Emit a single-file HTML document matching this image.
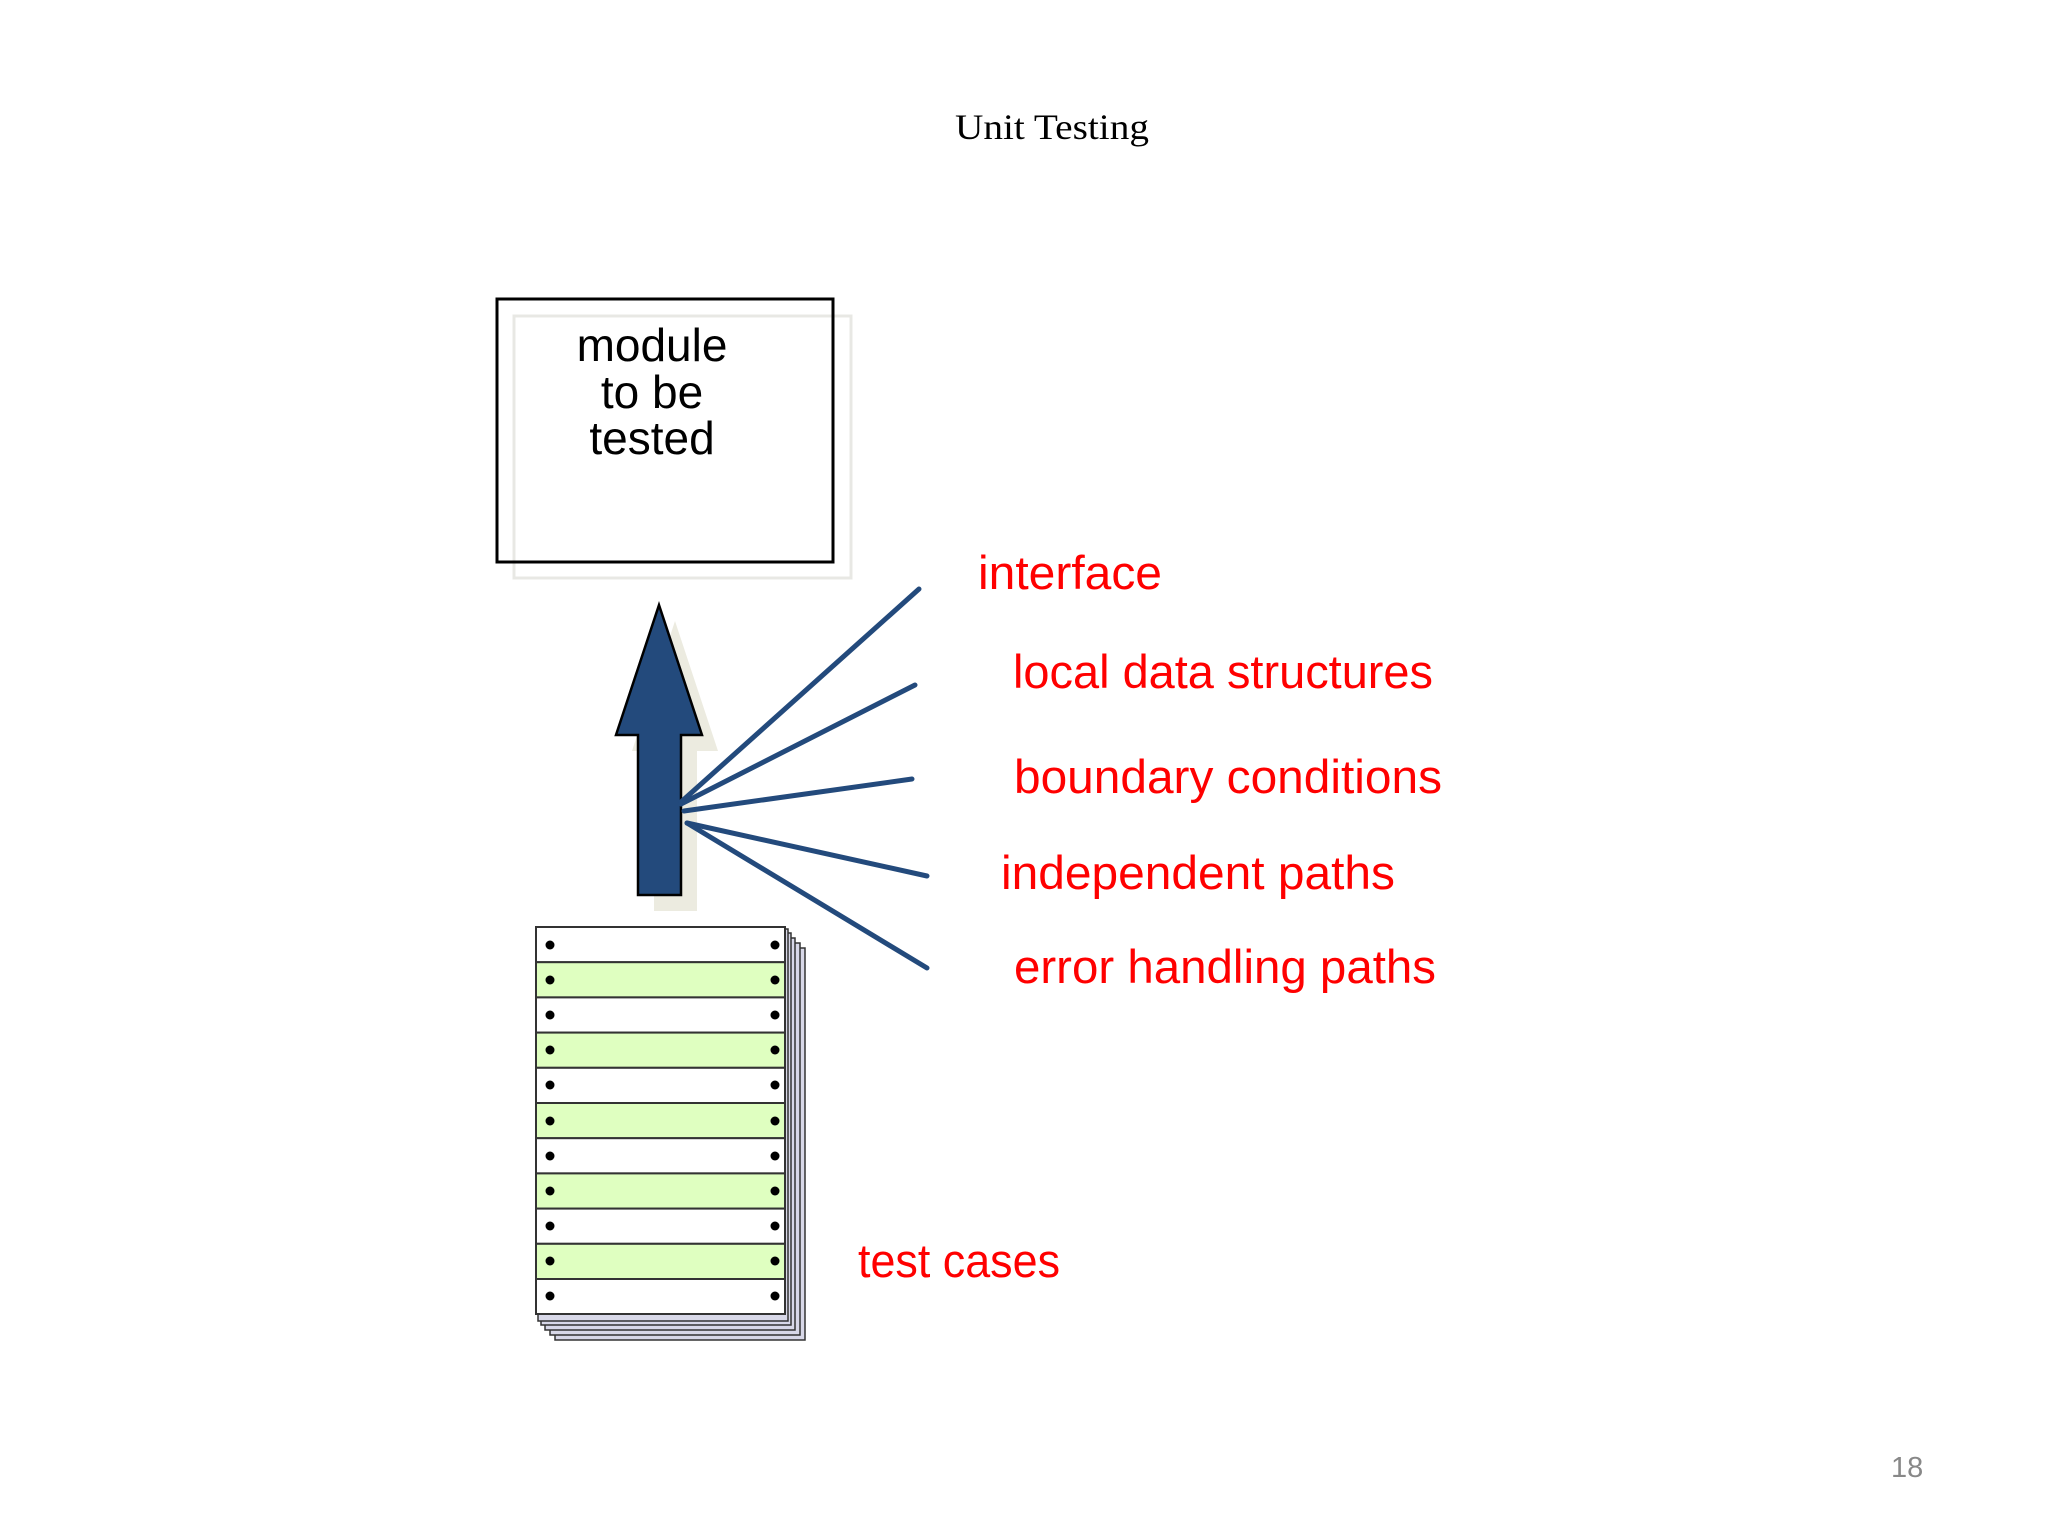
<!DOCTYPE html>
<html><head><meta charset="utf-8"><style>html,body{margin:0;padding:0;background:#fff}svg{display:block}</style></head>
<body>
<svg width="2048" height="1536" viewBox="0 0 2048 1536" xmlns="http://www.w3.org/2000/svg">
<text x="1052" y="139" text-anchor="middle" font-family="Liberation Serif, serif" font-size="36" fill="#000" textLength="194" lengthAdjust="spacingAndGlyphs">Unit Testing</text>
<rect x="514" y="316" width="337" height="262" fill="none" stroke="#e8e8e4" stroke-width="3"/>
<rect x="497" y="299" width="336" height="263" fill="none" stroke="#000" stroke-width="3"/>
<g font-family="Liberation Sans, sans-serif" font-size="46" fill="#000" text-anchor="middle">
<text x="652" y="361">module</text><text x="652" y="408">to be</text><text x="652" y="454">tested</text>
</g>
<polygon points="675,621 718,751 697,751 697,911 654,911 654,751 632,751" fill="#ecebe0"/>
<polygon points="659,605 702,735 681,735 681,895 638,895 638,735 616,735" fill="#234a7c" stroke="#000" stroke-width="2.5"/>
<g stroke="#234a7c" stroke-width="5" stroke-linecap="round">
<line x1="681" y1="802" x2="919" y2="589"/>
<line x1="681" y1="804" x2="915" y2="685"/>
<line x1="684" y1="811" x2="912" y2="779"/>
<line x1="687" y1="823" x2="927" y2="876"/>
<line x1="687" y1="823" x2="927" y2="968"/>
</g>
<g stroke="#333" stroke-width="1.5" fill="#d8d8e8">
<rect x="555" y="948" width="250" height="392"/>
<rect x="550" y="943" width="250" height="392"/>
<rect x="545" y="938" width="250" height="392"/>
<rect x="541" y="933" width="250" height="392"/>
<rect x="538" y="929" width="250" height="392"/>
</g>
<g stroke="#333" stroke-width="2">
<rect x="536" y="927" width="249" height="35.2" fill="#fff"/>
<rect x="536" y="962.2" width="249" height="35.2" fill="#dfffc0"/>
<rect x="536" y="997.4" width="249" height="35.2" fill="#fff"/>
<rect x="536" y="1032.6" width="249" height="35.2" fill="#dfffc0"/>
<rect x="536" y="1067.8" width="249" height="35.2" fill="#fff"/>
<rect x="536" y="1103" width="249" height="35.2" fill="#dfffc0"/>
<rect x="536" y="1138.2" width="249" height="35.2" fill="#fff"/>
<rect x="536" y="1173.4" width="249" height="35.2" fill="#dfffc0"/>
<rect x="536" y="1208.6" width="249" height="35.2" fill="#fff"/>
<rect x="536" y="1243.8" width="249" height="35.2" fill="#dfffc0"/>
<rect x="536" y="1279" width="249" height="35" fill="#fff"/>
</g>
<g fill="#000">
<circle cx="550" cy="945" r="4.5"/><circle cx="775" cy="945" r="4.5"/>
<circle cx="550" cy="980" r="4.5"/><circle cx="775" cy="980" r="4.5"/>
<circle cx="550" cy="1015" r="4.5"/><circle cx="775" cy="1015" r="4.5"/>
<circle cx="550" cy="1050" r="4.5"/><circle cx="775" cy="1050" r="4.5"/>
<circle cx="550" cy="1085" r="4.5"/><circle cx="775" cy="1085" r="4.5"/>
<circle cx="550" cy="1121" r="4.5"/><circle cx="775" cy="1121" r="4.5"/>
<circle cx="550" cy="1156" r="4.5"/><circle cx="775" cy="1156" r="4.5"/>
<circle cx="550" cy="1191" r="4.5"/><circle cx="775" cy="1191" r="4.5"/>
<circle cx="550" cy="1226" r="4.5"/><circle cx="775" cy="1226" r="4.5"/>
<circle cx="550" cy="1261" r="4.5"/><circle cx="775" cy="1261" r="4.5"/>
<circle cx="550" cy="1296" r="4.5"/><circle cx="775" cy="1296" r="4.5"/>
</g>
<g font-family="Liberation Sans, sans-serif" font-size="47" fill="#ff0000">
<text x="978" y="589" textLength="184" lengthAdjust="spacingAndGlyphs">interface</text>
<text x="1013" y="688" textLength="420" lengthAdjust="spacingAndGlyphs">local data structures</text>
<text x="1014" y="793" textLength="428" lengthAdjust="spacingAndGlyphs">boundary conditions</text>
<text x="1001" y="889" textLength="394" lengthAdjust="spacingAndGlyphs">independent paths</text>
<text x="1014" y="983" textLength="422" lengthAdjust="spacingAndGlyphs">error handling paths</text>
<text x="858" y="1277" textLength="202" lengthAdjust="spacingAndGlyphs">test cases</text>
</g>
<text x="1891" y="1477" font-family="Liberation Sans, sans-serif" font-size="29" fill="#888">18</text>
</svg>
</body></html>
